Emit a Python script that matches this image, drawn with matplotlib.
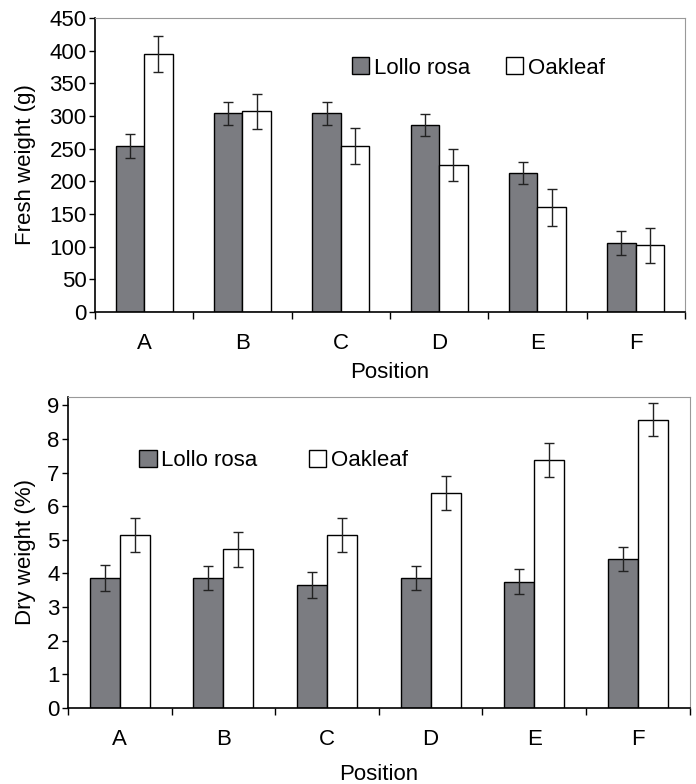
import matplotlib.pyplot as plt
import numpy as np

plt.rcParams['font.family'] = ['Liberation Sans', 'DejaVu Sans']

# data
positions = ['A', 'B', 'C', 'D', 'E', 'F']
series = ['Lollo rosa', 'Oakleaf']

fresh_lollo = [254, 304, 304, 286, 213, 106]
fresh_lollo_err = [18, 17, 17, 17, 17, 18]
fresh_oak = [395, 307, 254, 225, 160, 102]
fresh_oak_err = [27, 27, 27, 25, 28, 27]

dry_lollo = [3.86, 3.86, 3.66, 3.86, 3.76, 4.43]
dry_lollo_err = [0.38, 0.35, 0.39, 0.36, 0.36, 0.36]
dry_oak = [5.15, 4.72, 5.15, 6.40, 7.37, 8.58]
dry_oak_err = [0.5, 0.52, 0.5, 0.5, 0.51, 0.5]

gray = '#7b7c81'
fs = 16

fig = plt.figure(figsize=(6.96, 7.84), dpi=100)
ax1 = fig.add_axes([0.1365, 0.602, 0.8475, 0.375])
ax2 = fig.add_axes([0.0977, 0.097, 0.8933, 0.3966])


def draw(ax, a, a_err, b, b_err, ylim, yticks, ylabel, leg_anchor, colsp):
    x = np.arange(len(positions))
    w = 0.29
    err_kw = dict(ecolor='#222222', elinewidth=1.0, capsize=3.5, capthick=1.0)
    ax.bar(x - w / 2, a, w, yerr=a_err, color=gray, edgecolor='black',
           linewidth=1.0, label=series[0], error_kw=err_kw)
    ax.bar(x + w / 2, b, w, yerr=b_err, color='white', edgecolor='black',
           linewidth=1.0, label=series[1], error_kw=err_kw)
    ax.set_xlim(-0.5, len(positions) - 0.5)
    ax.set_ylim(*ylim)
    ax.set_yticks(yticks)
    ax.tick_params(axis='y', labelsize=fs, length=4, width=1, pad=2)
    # category ticks between groups, labels centred
    ax.set_xticks(np.arange(-0.5, len(positions), 1.0))
    ax.set_xticklabels([])
    ax.set_xticks(x, minor=True)
    ax.set_xticklabels(positions, minor=True, fontsize=fs)
    ax.tick_params(axis='x', which='major', length=5, width=1)
    ax.tick_params(axis='x', which='minor', length=0, pad=15)
    for s in ['top', 'right']:
        ax.spines[s].set_color('#999999')
    for s in ['left', 'bottom']:
        ax.spines[s].set_linewidth(1.2)
    ax.set_ylabel(ylabel, fontsize=fs, labelpad=10)
    ax.set_xlabel('Position', fontsize=fs)
    ax.legend(loc='center left', bbox_to_anchor=leg_anchor, ncol=2,
              frameon=False, fontsize=fs, handlelength=0.8, handleheight=0.8,
              handletextpad=0.2, columnspacing=colsp, borderaxespad=0)


draw(ax1, fresh_lollo, fresh_lollo_err, fresh_oak, fresh_oak_err,
     (0, 450), np.arange(0, 451, 50), 'Fresh weight (g)', (0.42, 0.83), 1.6)
draw(ax2, dry_lollo, dry_lollo_err, dry_oak, dry_oak_err,
     (0, 9.25), np.arange(0, 10, 1), 'Dry weight (%)', (0.10, 0.795), 2.3)
ax1.xaxis.labelpad = 6
ax2.xaxis.labelpad = 10
ax2.yaxis.labelpad = 8

fig.savefig('out.png', dpi=100)
